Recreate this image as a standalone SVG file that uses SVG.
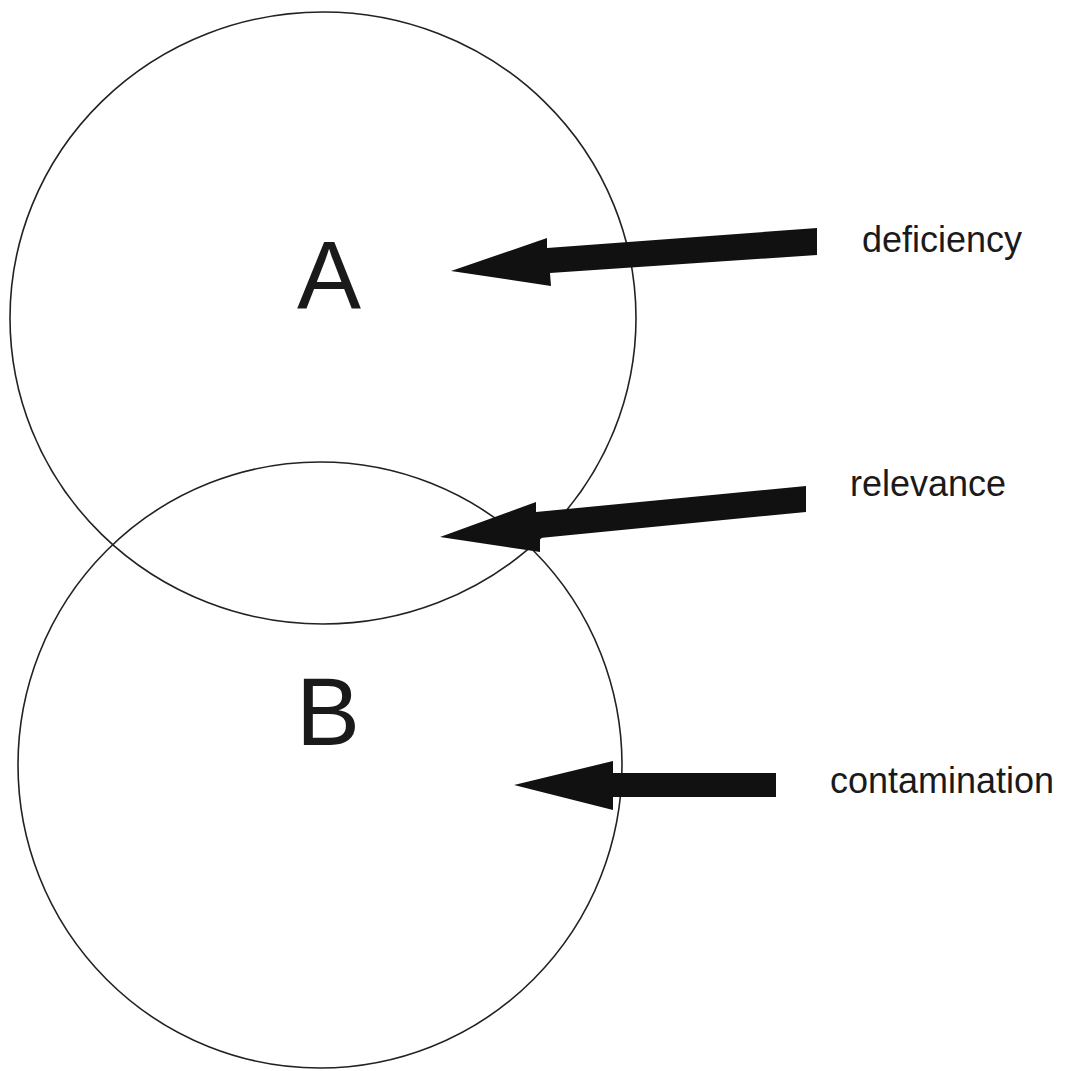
<svg xmlns="http://www.w3.org/2000/svg" width="1071" height="1071" viewBox="0 0 1071 1071">
<style>
.c{fill:none;stroke:#222;stroke-width:1.6}
.big{font-family:"Liberation Sans",Arial,sans-serif;font-size:96px;fill:#1a1a1a}
.lbl{font-family:"Liberation Sans",Arial,sans-serif;font-size:36px;fill:#1a1a1a}
.arr{fill:#111}
</style>
<rect width="1071" height="1071" fill="#fff"/>
<g id="nodeA">
<ellipse class="c" cx="323" cy="318" rx="313" ry="306"/>
<text class="big" x="329" y="308" text-anchor="middle">A</text>
</g>
<g id="nodeB">
<ellipse class="c" cx="320" cy="765" rx="302" ry="303"/>
<text class="big" x="328" y="745" text-anchor="middle">B</text>
</g>
<g id="labels">
<text class="lbl" x="862" y="252">deficiency</text>
<text class="lbl" x="850" y="496">relevance</text>
<text class="lbl" x="830" y="793">contamination</text>
</g>
<g id="connectors">
<polygon class="arr" points="451,271 547,238 547,248 817,228 817,255 550,273 551,286"/>
<polygon class="arr" points="440,537 536,502 536,512 806,486 806,512 540,538 540,552"/>
<polygon class="arr" points="514,785 613,761 613,773 776,773 776,797 613,797 613,810"/>
</g>
</svg>
